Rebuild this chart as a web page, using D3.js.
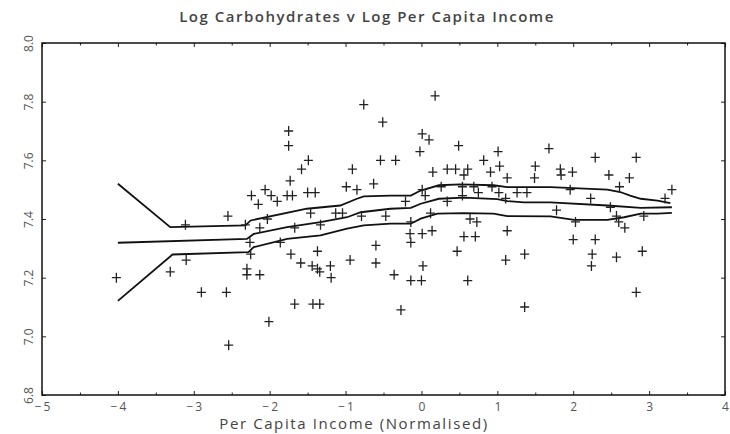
<!DOCTYPE html>
<html>
<head>
<meta charset="utf-8">
<script src="https://cdn.jsdelivr.net/npm/d3@7"></script>
<style>
body { margin: 0; background: #fff; }
text { font-family: "Open Sans", sans-serif; fill: #444; }
</style>
</head>
<body>
<svg id="chart"></svg>
<script>
// scatter points
var pointX = [-4.02,-3.31,-3.11,-3.10,-2.90,-2.57,-2.55,-2.54,-0.76,-0.51,-1.75,-1.75,-1.49,-1.58,-0.91,-0.54,
  -1.73,-0.99,-0.63,-2.24,-2.15,-2.06,-1.98,-1.90,-1.77,-1.70,-1.50,-1.40,-0.85,-2.32,-2.03,-1.46,-1.13,-1.04,
  -0.79,-0.47,-2.13,-1.67,-1.33,-2.26,-1.86,-0.60,-2.25,-1.72,-1.37,-0.94,-0.60,-2.30,-2.30,-2.13,-1.59,-1.44,
  -1.37,-1.34,-1.20,-1.19,-1.67,-1.43,-1.34,-2.01,0.18,0.01,0.10,-0.02,0.49,1.01,1.68,-0.34,0.82,0.15,0.34,
  0.45,0.61,0.56,0.91,1.03,1.50,1.13,1.49,0.01,0.05,0.26,0.54,0.69,0.75,0.54,0.93,1.02,1.11,1.26,1.39,-0.21,
  0.34,0.12,0.64,0.73,-0.14,1.13,-0.15,-0.14,0.01,0.14,0.56,0.71,0.47,1.11,1.36,0.02,-0.36,-0.14,0.00,0.61,
  -0.27,1.36,2.29,2.83,1.83,1.84,1.99,2.47,2.74,2.61,3.30,1.96,2.23,3.21,1.78,2.49,2.03,2.57,2.60,2.68,2.93,
  2.00,2.29,2.25,2.57,2.91,2.24,2.83];
var pointY = [7.20,7.22,7.38,7.26,7.15,7.15,7.41,6.97,7.79,7.73,7.70,7.65,7.60,7.57,7.57,7.60,
  7.53,7.51,7.52,7.48,7.45,7.50,7.48,7.46,7.48,7.48,7.49,7.49,7.50,7.38,7.40,7.42,7.42,7.42,
  7.41,7.41,7.37,7.37,7.38,7.32,7.32,7.31,7.28,7.28,7.29,7.26,7.25,7.23,7.21,7.21,7.25,7.24,
  7.23,7.22,7.24,7.20,7.11,7.11,7.11,7.05,7.82,7.69,7.67,7.63,7.65,7.63,7.64,7.60,7.60,7.56,7.57,
  7.57,7.57,7.55,7.56,7.58,7.58,7.54,7.54,7.50,7.48,7.51,7.51,7.51,7.49,7.48,7.51,7.49,7.47,7.49,7.49,7.46,
  7.46,7.42,7.40,7.39,7.39,7.36,7.35,7.32,7.35,7.36,7.34,7.34,7.29,7.26,7.28,7.24,7.21,7.19,7.19,7.19,
  7.09,7.10,7.61,7.61,7.57,7.55,7.56,7.55,7.54,7.51,7.50,7.50,7.47,7.47,7.43,7.44,7.39,7.41,7.39,7.37,7.41,
  7.33,7.33,7.28,7.27,7.29,7.24,7.15];

// smoothed fit and its upper / lower bands
var upperX = [-4.0,-3.31,-2.32,-2.25,-1.51,-1.07,-0.85,-0.76,-0.41,-0.14,-0.01,0.23,0.51,0.95,1.13,1.70,2.45,2.62,2.75,2.89,3.11,3.28];
var upperY = [7.520,7.372,7.378,7.395,7.435,7.446,7.469,7.477,7.480,7.480,7.497,7.515,7.518,7.515,7.509,7.509,7.500,7.492,7.480,7.469,7.463,7.454];
var fitX = [-4.0,-2.30,-2.21,-1.77,-1.33,-0.98,-0.80,-0.41,-0.14,-0.01,0.23,0.56,1.00,1.13,1.35,1.70,2.45,2.89,3.30];
var fitY = [7.319,7.332,7.349,7.372,7.389,7.406,7.423,7.435,7.438,7.452,7.469,7.473,7.468,7.461,7.457,7.457,7.446,7.438,7.440];
var lowerX = [-4.0,-3.28,-2.28,-2.21,-1.77,-1.33,-0.98,-0.76,-0.41,-0.14,-0.01,0.21,0.56,0.95,1.13,1.70,2.01,2.45,2.67,2.89,3.11,3.30];
var lowerY = [7.121,7.279,7.287,7.304,7.332,7.344,7.367,7.378,7.384,7.384,7.401,7.418,7.420,7.418,7.410,7.409,7.397,7.397,7.406,7.418,7.418,7.421];

var xTicks = [-5,-4,-3,-2,-1,0,1,2,3,4];
var yTicks = [6.8,7.0,7.2,7.4,7.6,7.8,8.0];

var width = 730, height = 434;
var margin = {top: 43, right: 5, bottom: 39, left: 42};

var svg = d3.select("#chart").attr("width", width).attr("height", height);

var x = d3.scaleLinear().domain([-5, 4]).range([margin.left, width - margin.right]);
var y = d3.scaleLinear().domain([6.8, 8.0]).range([height - margin.bottom, margin.top]);

var minorX = d3.range(-4.5, 4, 1);

// axes with inward ticks
var bottomAxis = svg.append("g").attr("transform", "translate(0," + y.range()[0] + ")");
bottomAxis.call(d3.axisBottom(x).tickValues(xTicks).tickSizeInner(-4).tickSizeOuter(0).tickPadding(7)
  .tickFormat(function(d){ return d < 0 ? "\u2212\u2009" + Math.abs(d) : d; }));
bottomAxis.append("g").attr("class", "minor").call(d3.axisBottom(x).tickValues(minorX).tickSize(-2.5));

var topAxis = svg.append("g").attr("transform", "translate(0," + margin.top + ")");
topAxis.call(d3.axisTop(x).tickValues(xTicks).tickSize(-4));
topAxis.append("g").call(d3.axisTop(x).tickValues(minorX).tickSize(-2.5));
topAxis.selectAll("text").remove();
bottomAxis.selectAll(".minor text").remove();

var leftAxis = svg.append("g").attr("transform", "translate(" + margin.left + ",0)");
leftAxis.call(d3.axisLeft(y).tickValues(yTicks).tickSizeInner(-4).tickSizeOuter(0)
  .tickFormat(d3.format(".1f")));
leftAxis.selectAll(".tick text")
  .attr("transform", "rotate(-90)")
  .attr("x", 0).attr("y", -9).attr("dy", 0)
  .style("text-anchor", "middle");

var rightAxis = svg.append("g").attr("transform", "translate(" + (width - margin.right) + ",0)");
rightAxis.call(d3.axisRight(y).tickValues(yTicks).tickSize(-4));
rightAxis.selectAll("text").remove();

svg.selectAll(".domain").remove();
svg.selectAll(".tick line").attr("stroke", "#222");
svg.selectAll(".tick text").style("font-size", "12px").style("fill", "#555");

svg.append("rect")
  .attr("x", margin.left).attr("y", margin.top)
  .attr("width", x.range()[1] - margin.left)
  .attr("height", y.range()[0] - margin.top)
  .attr("fill", "none").attr("stroke", "#111").attr("stroke-width", 1.5);

// fitted curves
var line = d3.line().x(function(d){ return x(d[0]); }).y(function(d){ return y(d[1]); });
[[upperX, upperY], [fitX, fitY], [lowerX, lowerY]].forEach(function(c){
  svg.append("path")
    .datum(d3.zip(c[0], c[1]))
    .attr("d", line)
    .attr("fill", "none").attr("stroke", "#111").attr("stroke-width", 1.8);
});

// plus markers
svg.append("g").selectAll("path")
  .data(d3.zip(pointX, pointY))
  .enter()
  .append("path")
  .attr("transform", function(d){ return "translate(" + x(d[0]) + "," + y(d[1]) + ")"; })
  .attr("d", "M-4.5,0H4.5M0,-5V5")
  .attr("stroke", "#222").attr("stroke-width", 1.3);

svg.append("text")
  .attr("x", 367).attr("y", 22)
  .attr("text-anchor", "middle")
  .style("font-size", "15px").style("font-weight", "600")
  .style("letter-spacing", "1.5px").style("fill", "#444")
  .text("Log Carbohydrates v Log Per Capita Income");

svg.append("text")
  .attr("x", 354).attr("y", 429)
  .attr("text-anchor", "middle")
  .style("font-size", "15px").style("letter-spacing", "1.6px").style("fill", "#444")
  .text("Per Capita Income (Normalised)");
</script>
</body>
</html>
